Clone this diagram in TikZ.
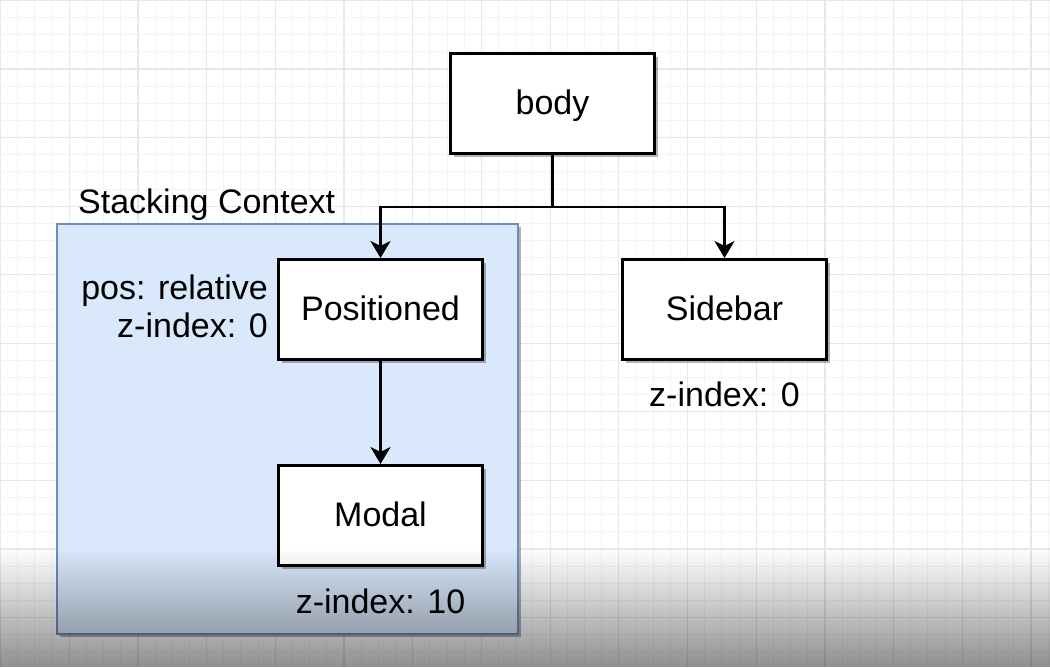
\documentclass[tikz,border=0pt]{standalone}
\usepackage{fontspec}
\setmainfont{Liberation Sans}
\usetikzlibrary{arrows.meta,shadows,fadings}
\definecolor{ctxfill}{HTML}{DAE8FC}
\definecolor{ctxline}{HTML}{6C8EBF}
\definecolor{gridminor}{HTML}{F4F4F4}
\definecolor{gridmajor}{HTML}{E8E8E8}
\begin{document}
\begin{tikzpicture}[x=1pt,y=-1pt,
  every node/.style={font=\fontsize{34}{41}\selectfont, inner sep=0pt},
  box/.style={draw=black, line width=3pt, fill=white, minimum width=204pt, minimum height=100pt,
    text height=25pt, text depth=4pt,
    drop shadow={shadow xshift=3pt, shadow yshift=-3pt, opacity=0.3, fill=black}},
  ctxbox/.style={draw=ctxline, line width=2pt, fill=ctxfill, minimum width=461pt, minimum height=410pt,
    drop shadow={shadow xshift=3pt, shadow yshift=-3pt, opacity=0.3, fill=black}},
  conn/.style={line width=2.8pt, draw=black},
  arr/.style={conn, -{Stealth[length=17pt,width=20pt,inset=5pt]}},
  minorline/.style={draw=gridminor, line width=1pt},
  majorline/.style={draw=gridmajor, line width=1.2pt}]
\fill[white] (0,0) rectangle (1050,667);
\useasboundingbox (0,0) rectangle (1050,667);
% grid
\foreach \i in {0,...,61} \draw[minorline] ({0.5+\i*17.175},0) -- ({0.5+\i*17.175},667);
\foreach \j in {0,...,39} \draw[minorline] (0,{0.5+\j*17.14}) -- (1050,{0.5+\j*17.14});
\foreach \i in {0,...,15} \draw[majorline] ({0.5+\i*68.7},0) -- ({0.5+\i*68.7},667);
\foreach \j in {0,...,9} \draw[majorline] (0,{0.5+\j*68.56}) -- (1050,{0.5+\j*68.56});
% stacking context
\node[ctxbox] (ctx) at (287.5,429) {};
\node[anchor=base west] (ctxlabel) at (78,213) {Stacking Context};
% boxes
\node[box] (body) at (552.5,103.5) {body};
\node[box] (pos) at (380.5,309.5) {Positioned};
\node[box] (side) at (724.5,309.5) {Sidebar};
\node[box] (modal) at (380.5,515.5) {Modal};
% connectors
\coordinate (j) at (552.5,207);
\draw[conn] (body.south) -- (j);
\draw[arr] (j) -| (pos.north);
\draw[arr] (j) -| (side.north);
\draw[arr] (pos.south) -- (modal.north);
% labels
\node[anchor=base east] (posrel) at (268,299) {pos: relative};
\node[anchor=base east] (posz) at (268,337) {z-index: 0};
\node[anchor=base] (sidez) at (724.5,406) {z-index: 0};
\node[anchor=base] (modalz) at (380.5,613) {z-index: 10};
% bottom fade
\fill[black, opacity=0.44, path fading=north] (0,548) rectangle (1050,667);
\end{tikzpicture}
\end{document}
